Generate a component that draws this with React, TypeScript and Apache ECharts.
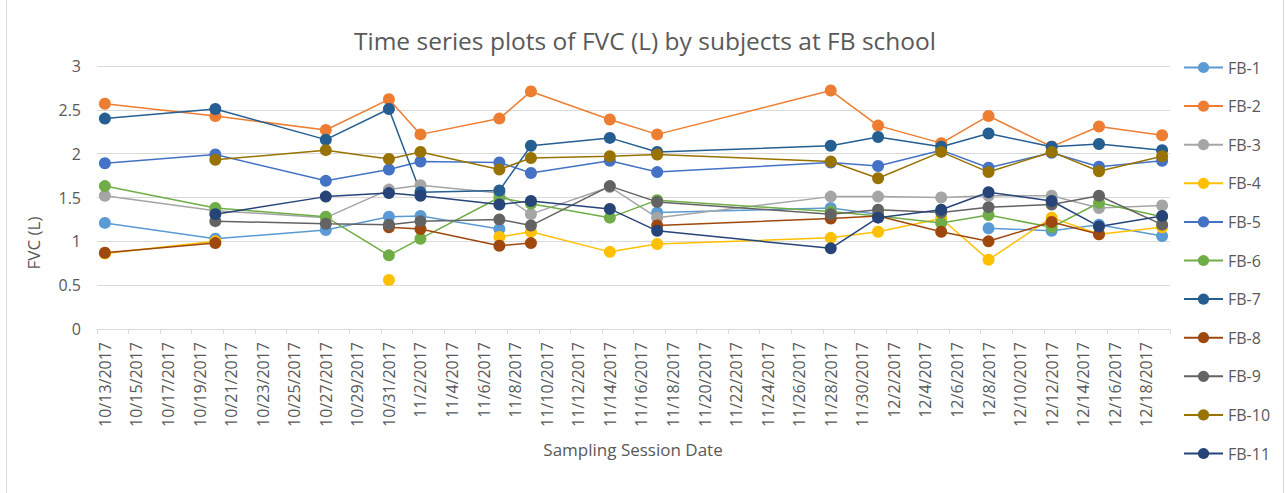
import React, { useEffect, useRef } from "react";
import * as echarts from "echarts";

const TITLE = "Time series plots of FVC (L) by subjects at FB school";
const X_TITLE = "Sampling Session Date";
const Y_TITLE = "FVC (L)";

// sampling session dates
const sessionDates = [
  "10/13/2017", "10/20/2017", "10/27/2017", "10/31/2017", "11/2/2017", "11/7/2017",
  "11/9/2017", "11/14/2017", "11/17/2017", "11/28/2017", "12/1/2017", "12/5/2017",
  "12/8/2017", "12/12/2017", "12/15/2017", "12/19/2017",
];

const seriesNames = ["FB-1", "FB-2", "FB-3", "FB-4", "FB-5", "FB-6", "FB-7", "FB-8", "FB-9", "FB-10", "FB-11"];

const fb1 = [1.21, 1.03, 1.13, 1.28, 1.29, 1.14, null, null, 1.33, 1.38, 1.31, null, 1.15, 1.12, 1.19, 1.06];
const fb2 = [2.57, 2.43, 2.27, 2.62, 2.22, 2.40, 2.71, 2.39, 2.22, 2.72, 2.32, 2.12, 2.43, 2.08, 2.31, 2.21];
const fb3 = [1.52, 1.35, 1.27, 1.59, 1.64, 1.55, 1.31, 1.62, 1.27, 1.51, 1.51, 1.50, 1.52, 1.52, 1.38, 1.41];
const fb4 = [0.86, 1.00, null, 0.56, null, 1.05, 1.11, 0.88, 0.97, 1.04, 1.11, 1.26, 0.79, 1.27, 1.08, 1.16];
const fb5 = [1.89, 1.99, 1.69, 1.82, 1.91, 1.90, 1.78, 1.92, 1.79, 1.90, 1.86, 2.04, 1.84, 2.01, 1.85, 1.92];
const fb6 = [1.63, 1.38, 1.28, 0.84, 1.03, 1.50, 1.43, 1.27, 1.47, 1.34, 1.29, 1.21, 1.30, 1.16, 1.44, 1.28];
const fb7 = [2.40, 2.51, 2.16, 2.51, 1.56, 1.58, 2.09, 2.18, 2.02, 2.09, 2.19, 2.08, 2.23, 2.08, 2.11, 2.04];
const fb8 = [0.87, 0.98, null, 1.16, 1.14, 0.95, 0.98, null, 1.18, 1.26, 1.29, 1.11, 1.00, 1.22, 1.08, null];
const fb9 = [null, 1.23, 1.20, 1.19, 1.23, 1.25, 1.18, 1.63, 1.45, 1.31, 1.36, 1.33, 1.39, 1.42, 1.52, 1.19];
const fb10 = [null, 1.93, 2.04, 1.94, 2.02, 1.82, 1.95, 1.97, 1.99, 1.91, 1.72, 2.02, 1.79, 2.02, 1.80, 1.97];
const fb11 = [null, 1.31, 1.51, 1.55, 1.52, 1.42, 1.46, 1.37, 1.12, 0.92, 1.27, 1.36, 1.56, 1.46, 1.17, 1.29];

const seriesValues = [fb1, fb2, fb3, fb4, fb5, fb6, fb7, fb8, fb9, fb10, fb11];

const seriesColors = [
  "#5B9BD5", "#ED7D31", "#A5A5A5", "#FFC000", "#4472C4", "#70AD47",
  "#255E91", "#9E480E", "#636363", "#997300", "#264478",
];

// y-axis ticks
const yMin = 0;
const yMax = 3;
const yStep = 0.5;

// date axis range (one category per day)
const axisStart = [2017, 9, 13];
const axisEnd = [2017, 11, 19];

function buildDayLabels(): string[] {
  const out: string[] = [];
  const d = new Date(axisStart[0], axisStart[1], axisStart[2]);
  const end = new Date(axisEnd[0], axisEnd[1], axisEnd[2]);
  while (d <= end) {
    out.push(`${d.getMonth() + 1}/${d.getDate()}/${d.getFullYear()}`);
    d.setDate(d.getDate() + 1);
  }
  return out;
}

const FONT = "'Open Sans', sans-serif";
const TEXT = "#595959";
const GRID = "#D9D9D9";

export default function App() {
  const ref = useRef<HTMLDivElement>(null);
  useEffect(() => {
    if (!ref.current) return;
    const chart = echarts.init(ref.current, undefined, { renderer: "svg" });
    const dayLabels = buildDayLabels();
    chart.setOption({
      animation: false,
      backgroundColor: "#ffffff",
      textStyle: { fontFamily: FONT },
      grid: { left: 97, right: 116, top: 66, bottom: 164, containLabel: false },
      xAxis: {
        type: "category",
        data: dayLabels,
        boundaryGap: true,
        axisLine: { show: true, lineStyle: { color: GRID, width: 1 } },
        axisTick: { show: true, interval: 1, length: 5, lineStyle: { color: GRID } },
        axisLabel: {
          interval: 1,
          rotate: 90,
          color: TEXT,
          fontSize: 16,
          margin: 13,
          fontFamily: FONT,
        },
        splitLine: { show: false },
      },
      yAxis: {
        type: "value",
        min: yMin,
        max: yMax,
        interval: yStep,
        axisLine: { show: false },
        axisTick: { show: false },
        axisLabel: { color: TEXT, fontSize: 16, margin: 16, fontFamily: FONT },
        splitLine: { show: true, lineStyle: { color: GRID, width: 1 } },
      },
      legend: {
        orient: "vertical",
        left: 1178,
        top: 54.5,
        padding: 5,
        itemWidth: 39,
        itemHeight: 14,
        itemGap: 22.6,
        textStyle: { color: TEXT, fontSize: 16, lineHeight: 14, fontFamily: FONT },
        data: seriesNames,
      },
      series: seriesNames.map((name, i) => ({
        name,
        type: "line",
        data: sessionDates.map((d, j) => [d, seriesValues[i][j] == null ? "-" : seriesValues[i][j]]),
        symbol: "circle",
        symbolSize: 12,
        showSymbol: true,
        showAllSymbol: true,
        connectNulls: false,
        color: seriesColors[i],
        lineStyle: { width: 1.5, color: seriesColors[i] },
        itemStyle: { color: seriesColors[i] },
        emphasis: { disabled: true },
      })),
      graphic: [
        {
          type: "text",
          x: 645,
          y: 40,
          style: {
            text: TITLE,
            fill: TEXT,
            font: `24.5px ${FONT}`,
            align: "center",
            verticalAlign: "middle",
          },
        },
        {
          type: "text",
          x: 633,
          y: 449,
          style: {
            text: X_TITLE,
            fill: TEXT,
            font: `17px ${FONT}`,
            align: "center",
            verticalAlign: "middle",
          },
        },
        {
          type: "text",
          x: 33,
          y: 243,
          rotation: Math.PI / 2,
          style: {
            text: Y_TITLE,
            fill: TEXT,
            font: `17px ${FONT}`,
            align: "center",
            verticalAlign: "middle",
          },
        },
        {
          type: "line",
          shape: { x1: 6.5, y1: 0, x2: 6.5, y2: 493 },
          style: { stroke: GRID, lineWidth: 1 },
        },
        {
          type: "line",
          shape: { x1: 1283.5, y1: 0, x2: 1283.5, y2: 493 },
          style: { stroke: GRID, lineWidth: 1 },
        },
      ],
    });
    return () => chart.dispose();
  }, []);
  return (
    <div
      ref={ref}
      style={{ position: "absolute", left: 0, top: 0, width: 1286, height: 493 }}
    />
  );
}
